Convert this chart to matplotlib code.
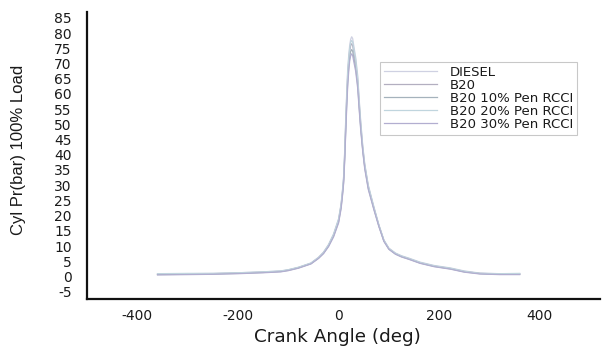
import matplotlib.pyplot as plt

plt.rcParams['font.family'] = ['DejaVu Sans']
plt.rcParams['axes.unicode_minus'] = False

# crank angle (deg) sample points
angle = [-360, -300, -250, -200, -150, -115, -100, -80, -55, -40, -30, -20, -10,
         0, 5, 8, 10, 12, 14, 16, 18, 20, 22, 24, 26, 28, 30, 34, 38, 41, 44,
         48, 52, 59, 70, 80, 90, 100, 113, 125, 140, 162, 190, 222, 250, 281,
         320, 360]

diesel = [0.8, 0.9, 1.0, 1.2, 1.5, 1.8, 2.2, 3.0, 4.4, 6.3, 8.0, 10.5, 14.0,
          19.0, 24.0, 29.0, 33.0, 41.0, 51.0, 60.0, 68.0, 72.5, 76.0, 78.0, 78.8, 78.2, 76.0,
          72.0, 66.0, 58.0, 51.0, 43.0, 37.0, 30.0, 23.0, 17.0, 12.0, 9.3, 7.7, 6.8,
          6.0, 4.7, 3.6, 2.8, 1.8, 1.1, 0.9, 0.9]
b20 = [0.7, 0.8, 0.9, 1.1, 1.4, 1.7, 2.1, 2.9, 4.3, 6.1, 7.8, 10.2, 13.6,
       18.5, 23.4, 28.2, 32.0, 39.5, 49.0, 58.0, 65.5, 70.5, 74.0, 76.0, 76.5, 75.8, 73.8,
       70.0, 64.0, 56.5, 49.5, 42.0, 36.3, 29.5, 22.6, 16.8, 11.8, 9.1, 7.5, 6.6,
       5.8, 4.5, 3.4, 2.6, 1.6, 1.0, 0.8, 0.8]
b20_10 = [0.6, 0.7, 0.8, 1.0, 1.3, 1.6, 2.0, 2.8, 4.2, 6.0, 7.6, 10.0, 13.3,
          18.0, 22.8, 27.5, 31.2, 38.5, 47.5, 56.5, 63.8, 68.8, 72.2, 74.0, 74.6, 74.0, 72.0,
          68.5, 62.8, 55.5, 48.8, 41.5, 35.8, 29.0, 22.3, 16.6, 11.7, 9.0, 7.4, 6.5,
          5.7, 4.4, 3.3, 2.5, 1.5, 0.9, 0.7, 0.7]
b20_20 = [0.9, 1.0, 1.0, 1.2, 1.5, 1.8, 2.2, 3.0, 4.4, 6.2, 7.9, 10.4, 13.8,
          18.8, 23.7, 28.6, 32.5, 40.3, 50.2, 59.0, 66.8, 71.5, 75.0, 77.0, 77.6, 77.0, 75.0,
          71.2, 65.2, 57.4, 50.4, 42.6, 36.7, 29.8, 22.8, 16.9, 11.9, 9.2, 7.6, 6.7,
          5.9, 4.6, 3.5, 2.7, 1.7, 1.0, 0.9, 1.0]
b20_30 = [0.5, 0.6, 0.7, 0.9, 1.2, 1.5, 1.9, 2.7, 4.1, 5.9, 7.5, 9.8, 13.0,
          17.6, 22.3, 27.0, 30.6, 37.6, 46.5, 55.0, 62.3, 67.2, 70.8, 72.6, 73.2, 72.6, 70.8,
          67.4, 61.8, 54.6, 48.0, 41.0, 35.3, 28.6, 22.0, 16.4, 11.5, 8.9, 7.3, 6.4,
          5.6, 4.3, 3.2, 2.4, 1.4, 0.8, 0.6, 0.6]

series = [diesel, b20, b20_10, b20_20, b20_30]
labels = ["DIESEL", "B20", "B20 10% Pen RCCI", "B20 20% Pen RCCI", "B20 30% Pen RCCI"]
colors = ["#cfd1e2", "#b3afc0", "#a5b2bc", "#c0d5de", "#b2aed0"]
yticks = list(range(-5, 90, 5))
xticks = [-400, -200, 0, 200, 400]

fig = plt.figure(figsize=(6.05, 3.48), dpi=100)
ax = fig.add_axes([0.144, 0.141, 0.848, 0.825])

for vals, lab, c in zip(series, labels, colors):
    ax.plot(angle, vals, color=c, linewidth=0.9, label=lab)

ax.set_xlim(-500, 520)
ax.set_ylim(-7.4, 87)
ax.set_xticks(xticks)
ax.set_yticks(yticks)
ax.tick_params(length=0, labelsize=10, labelcolor="#1a1a1a")
ax.tick_params(axis='y', pad=11)
ax.tick_params(axis='x', pad=7)

for s in ["top", "right"]:
    ax.spines[s].set_visible(False)
for s in ["left", "bottom"]:
    ax.spines[s].set_linewidth(1.6)
    ax.spines[s].set_color("#111111")

ax.set_xlabel("Crank Angle (deg)", fontsize=13.2, color="#1a1a1a")
ax.xaxis.set_label_coords(0.487, -0.1)
ax.set_ylabel("Cyl Pr(bar) 100% Load", fontsize=12, color="#1a1a1a",
              family=["Liberation Sans", "DejaVu Sans"])
ax.yaxis.set_label_coords(-0.12, 0.52)

leg = ax.legend(loc="upper left", bbox_to_anchor=(0.571, 0.826), borderaxespad=0,
                prop={"size": 9.5}, frameon=True, fancybox=False, labelspacing=0.0,
                handlelength=4.0, handletextpad=1.0, borderpad=0.3)
leg.get_frame().set_edgecolor("#bbbbbb")
leg.get_frame().set_linewidth(0.8)
for t in leg.get_texts():
    t.set_color("#1a1a1a")

fig.savefig("out.png", dpi=100)
